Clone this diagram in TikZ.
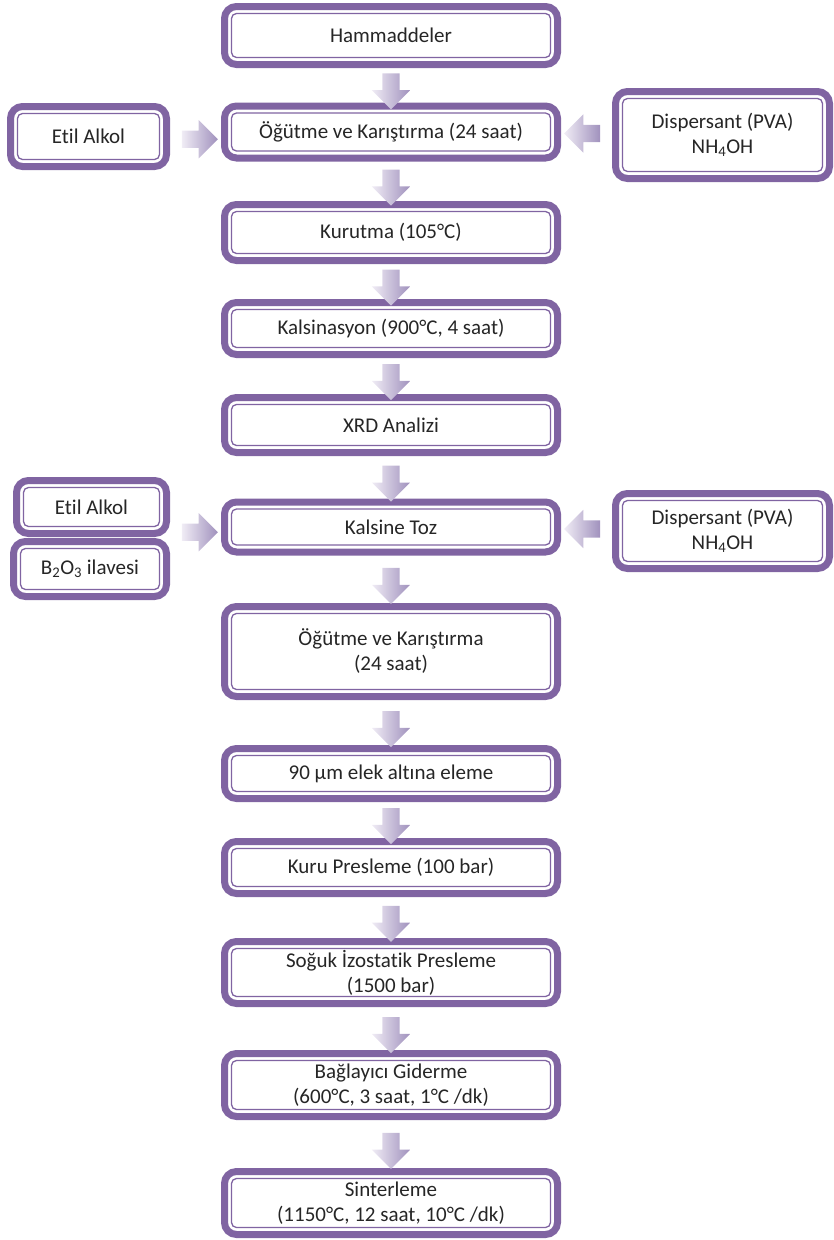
\documentclass[tikz,border=0pt]{standalone}
\usepackage{fontspec}
\setmainfont{Carlito}[Ligatures=CommonOff]
\usetikzlibrary{positioning,calc,shapes.arrows}

\definecolor{boxpurple}{HTML}{8064A2}
\definecolor{arrowlight}{HTML}{F0ECF5}
\definecolor{arrowdark}{HTML}{A091BD}

\begin{document}
\begin{tikzpicture}[
                x=1pt,y=-1pt,
                stagebox/.style={draw=boxpurple,line width=7pt,rounded corners=12pt,fill=white,
                    align=center,inner sep=0pt,minimum width=333pt,
                    font=\fontsize{21}{25}\selectfont,text=black!85},
                innerframe/.style={draw=boxpurple,line width=1.3pt,rounded corners=5pt},
                flowarrow/.style={single arrow,draw=none,inner sep=0pt,
                    text height=17pt,text depth=0pt,text width=0pt,
                    minimum height=36pt,single arrow head extend=10.5pt,
                    left color=arrowlight,right color=arrowdark}
            ]
                \useasboundingbox (0,0) rectangle (834,1240);
                % main column
                \node (raw)    [stagebox,minimum height=58pt] at (391,35.5)  {Hammaddeler};
                \node (mill)   [stagebox,minimum height=52pt] at (391,132)   {Öğütme ve Karıştırma (24 saat)};
                \node (dry)    [stagebox,minimum height=56pt] at (391,232.5) {Kurutma (105°C)};
                \node (calc)   [stagebox,minimum height=52pt] at (391,328.5) {Kalsinasyon (900°C, 4 saat)};
                \node (xrd)    [stagebox,minimum height=55pt] at (391,425)   {XRD Analizi};
                \node (powder) [stagebox,minimum height=50pt] at (391,527)   {Kalsine Toz};
                \node (millb)  [stagebox,minimum height=90pt] at (391,651.5) {Öğütme ve Karıştırma\\(24 saat)};
                \node (sieve)  [stagebox,minimum height=50pt] at (391,773.5) {90 µm elek altına eleme};
                \node (press)  [stagebox,minimum height=52pt] at (391,867.5) {Kuru Presleme (100 bar)};
                \node (cip)    [stagebox,minimum height=62pt] at (391,972.5) {Soğuk İzostatik Presleme\\(1500 bar)};
                \node (debind) [stagebox,minimum height=63pt] at (391,1085)  {Bağlayıcı Giderme\\(600°C, 3 saat, 1°C /dk)};
                \node (sinter) [stagebox,minimum height=63pt] at (391,1203)  {Sinterleme\\(1150°C, 12 saat, 10°C /dk)};
                % additives
                \node (ethA)  [stagebox,minimum width=156pt,minimum height=60pt] at (88.5,136.5) {Etil Alkol};
                \node (dispA) [stagebox,minimum width=214pt,minimum height=87pt] at (722.5,135) {Dispersant (PVA)\\NH\textsubscript{4}OH};
                \node (ethB)  [stagebox,minimum width=150pt,minimum height=53pt] at (91.5,507) {Etil Alkol};
                \node (boron) [stagebox,minimum width=153pt,minimum height=55pt] at (90,569) {B\textsubscript{2}O\textsubscript{3} ilavesi};
                \node (dispB) [stagebox,minimum width=214pt,minimum height=75pt] at (722.5,531) {Dispersant (PVA)\\NH\textsubscript{4}OH};
                \foreach \n in {raw,mill,dry,calc,xrd,powder,millb,sieve,press,cip,debind,sinter,ethA,dispA,ethB,boron,dispB}
                    \draw[innerframe] ([shift={(10.5pt,-10.5pt)}]\n.north west) rectangle ([shift={(-10.5pt,10.5pt)}]\n.south east);
                % arrows
                \foreach \a/\b in {raw/mill,mill/dry,dry/calc,calc/xrd,xrd/powder,powder/millb,millb/sieve,sieve/press,press/cip,cip/debind,debind/sinter}
                    \node[flowarrow,rotate=-90] at ($(\a.south)!0.55!(\b.north)$) {};
                \node[flowarrow] at ($(ethA.east)!0.5!(mill.west)+(0,5)$) {};
                \node[flowarrow,rotate=180] at ($(dispA.west)!0.5!(mill.east)$) {};
                \node[flowarrow] at ($($(ethB.south east)!0.5!(boron.north east)$)!0.5!(powder.west)$) {};
                \node[flowarrow,rotate=180] at ($(dispB.west)!0.5!(powder.east)$) {};
            \end{tikzpicture}
\end{document}
